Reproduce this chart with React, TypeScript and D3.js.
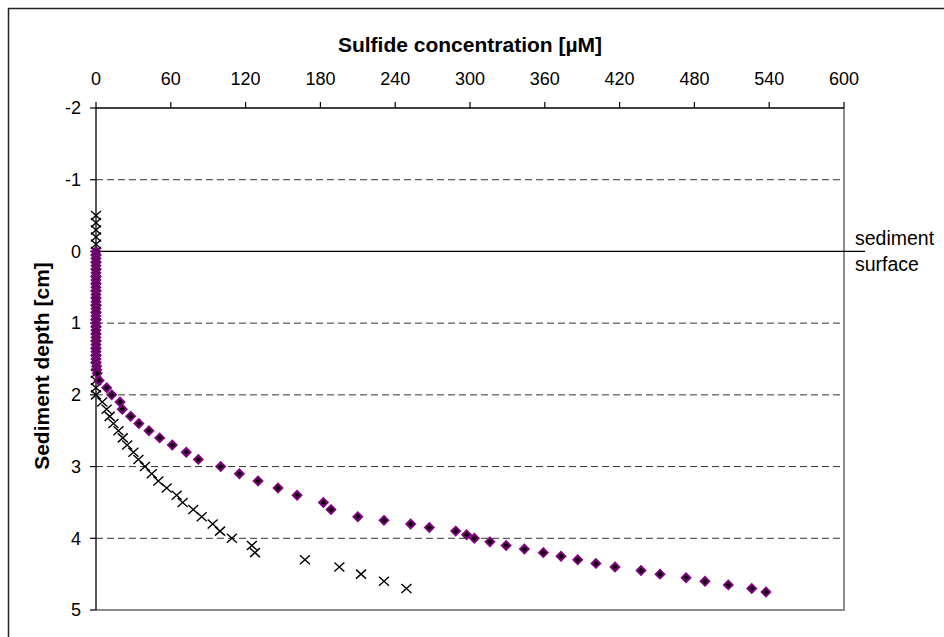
import React from "react";
import * as d3 from "d3";

// ---- data ----
const xTicks = [0, 60, 120, 180, 240, 300, 360, 420, 480, 540, 600];
const yTicks = [-2, -1, 0, 1, 2, 3, 4, 5];
const gridDepths = [-1, 1, 2, 3, 4];

// diamond series (depth cm, sulfide µM)
const diamondDepth = [
  0, 0.05, 0.1, 0.15, 0.2, 0.25, 0.3, 0.35, 0.4, 0.45, 0.5, 0.55, 0.6, 0.65, 0.7, 0.75, 0.8, 0.85, 0.9, 0.95,
  1.0, 1.05, 1.1, 1.15, 1.2, 1.25, 1.3, 1.35, 1.4, 1.45, 1.5, 1.55, 1.6, 1.65, 1.7,
  1.8, 1.9, 2.0, 2.1, 2.2, 2.3, 2.4, 2.5, 2.6, 2.7, 2.8, 2.9, 3.0, 3.1, 3.2, 3.3, 3.4, 3.5, 3.6, 3.7, 3.75,
  3.8, 3.85, 3.9, 3.95, 4.0, 4.05, 4.1, 4.15, 4.2, 4.25, 4.3, 4.35, 4.4, 4.45, 4.5, 4.55, 4.6, 4.65, 4.7, 4.75,
];
const diamondConc = [
  0, 0, 0, 0, 0, 0, 0, 0, 0, 0, 0, 0, 0, 0, 0, 0, 0, 0, 0, 0,
  0, 0, 0, 0, 0, 0, 0, 0, 0, 0, 0, 0, 0.5, 0.5, 1,
  2.5, 8.6, 12.6, 19.3, 21.1, 27.8, 34.4, 42.5, 51.1, 61.2, 72.4, 82.1, 100, 115, 130, 146, 161.3, 182.4, 188.5, 210, 231,
  252.4, 267.4, 288.5, 297.3, 303.5, 316, 329, 343.6, 358.8, 373, 386.4, 401, 416.3, 437.2, 452.4, 473.3, 488.5, 507.2, 526, 537.4,
];

// cross series
const crossDepth = [
  -0.5, -0.4, -0.3, -0.2, -0.1, 0, 0.1, 0.2, 0.3, 0.4, 0.5, 0.6, 0.7, 0.8, 0.9, 1.0, 1.1, 1.2, 1.3, 1.4, 1.5, 1.6, 1.7, 1.8, 1.9,
  2.0, 2.1, 2.2, 2.3, 2.4, 2.5, 2.6, 2.7, 2.8, 2.9, 3.0, 3.1, 3.2, 3.3, 3.4, 3.5, 3.6, 3.7, 3.8, 3.9, 4.0, 4.1, 4.2, 4.3, 4.4, 4.5, 4.6, 4.7,
];
const crossConc = [
  0, 0, 0, 0, 0, 0, 0, 0, 0, 0, 0, 0, 0, 0, 0, 0, 0, 0, 0, 0, 0, 0, 0, 0, 0,
  0, 5, 8.5, 11, 14, 18, 21.5, 25, 30, 34, 39.3, 44.7, 50, 56.7, 64.7, 69.5, 78, 84.8, 93.6, 99.5, 109, 125, 127.5, 167.6, 195.2, 212.6, 231, 249,
];

const W = 944;
const H = 637;
const plot = { left: 96, right: 844, top: 108, bottom: 610 };
const FONT = "'Liberation Sans', Arial, sans-serif";

export default function App() {
  const x = d3.scaleLinear().domain([0, 600]).range([plot.left, plot.right]);
  const y = d3.scaleLinear().domain([-2, 5]).range([plot.top, plot.bottom]);

  const diamonds = diamondDepth.map((d, i) => ({ d, v: diamondConc[i] }));
  const crosses = crossDepth.map((d, i) => ({ d, v: crossConc[i] }));

  return (
    <div style={{ position: "absolute", left: 0, top: 0 }}>
      <svg width={W} height={H} style={{ display: "block", background: "#fff" }} fontFamily={FONT}>
        <rect x={0} y={0} width={W} height={H} fill="#fff" />
        {/* outer chart border */}
        <rect x={8.5} y={8.5} width={W + 20} height={H + 20} fill="none" stroke="#222" strokeWidth={1.5} />

        {/* gridlines */}
        {gridDepths.map((g) => (
          <line key={g} x1={plot.left} x2={plot.right} y1={y(g)} y2={y(g)} stroke="#333" strokeWidth={1} strokeDasharray="7,4" />
        ))}

        {/* right and bottom plot frame */}
        <line x1={plot.right} x2={plot.right} y1={plot.top} y2={plot.bottom} stroke="#8c8c8c" strokeWidth={2} />
        <line x1={plot.left} x2={plot.right + 1} y1={plot.bottom} y2={plot.bottom} stroke="#8c8c8c" strokeWidth={2} />

        {/* sediment surface line */}
        <line x1={plot.left} x2={865} y1={y(0)} y2={y(0)} stroke="#000" strokeWidth={1.3} />
        <text x={855} y={y(0) - 6} fontSize={19.5} fill="#000">sediment</text>
        <text x={855} y={y(0) + 20} fontSize={19.5} fill="#000">surface</text>

        {/* top axis */}
        <line x1={plot.left} x2={plot.right} y1={plot.top} y2={plot.top} stroke="#000" strokeWidth={1.3} />
        {xTicks.map((t) => (
          <g key={t}>
            <line x1={x(t)} x2={x(t)} y1={plot.top - 6} y2={plot.top} stroke="#000" strokeWidth={1.2} />
            <text x={x(t)} y={85} textAnchor="middle" fontSize={18} fill="#000">{t}</text>
          </g>
        ))}
        <text x={(plot.left + plot.right) / 2} y={52} textAnchor="middle" fontSize={21} fontWeight="bold" fill="#000">
          Sulfide concentration [µM]
        </text>

        {/* left axis */}
        <line x1={plot.left} x2={plot.left} y1={plot.top} y2={plot.bottom} stroke="#000" strokeWidth={1.3} />
        {yTicks.map((t) => (
          <g key={t}>
            <line x1={plot.left - 6} x2={plot.left} y1={y(t)} y2={y(t)} stroke="#000" strokeWidth={1.2} />
            <text x={81} y={y(t)} dy="0.35em" textAnchor="end" fontSize={18} fill="#000">{t}</text>
          </g>
        ))}
        <text
          transform={`translate(49, 366) rotate(-90)`}
          textAnchor="middle"
          fontSize={21}
          fontWeight="bold"
          fill="#000"
        >
          Sediment depth [cm]
        </text>

        {/* crosses */}
        {crosses.map((p, i) => {
          const cx = x(p.v);
          const cy = y(p.d);
          return (
            <path
              key={"c" + i}
              d={`M${cx - 5},${cy - 4.5} L${cx + 5},${cy + 4.5} M${cx - 5},${cy + 4.5} L${cx + 5},${cy - 4.5}`}
              stroke="#000"
              strokeWidth={1.4}
              fill="none"
            />
          );
        })}

        {/* diamonds */}
        {diamonds.map((p, i) => {
          const cx = x(p.v);
          const cy = y(p.d);
          return (
            <path
              key={"d" + i}
              d={`M${cx},${cy - 4.3} L${cx + 4.3},${cy} L${cx},${cy + 4.3} L${cx - 4.3},${cy} Z`}
              fill="#000"
              stroke="#800080"
              strokeWidth={2}
            />
          );
        })}
      </svg>
    </div>
  );
}
